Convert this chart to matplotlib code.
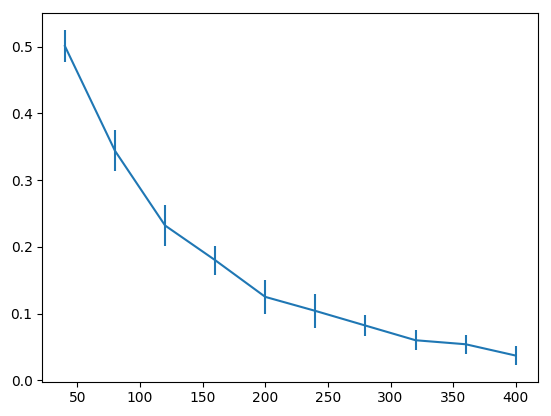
import matplotlib
matplotlib.use('Agg')
import matplotlib.pyplot as plt

x = [40, 80, 120, 160, 200, 240, 280, 320, 360, 400]
y = [0.501, 0.344, 0.232, 0.180, 0.125, 0.104, 0.082, 0.060, 0.054, 0.037]
err = [0.024, 0.031, 0.030, 0.022, 0.025, 0.025, 0.016, 0.015, 0.014, 0.014]

fig = plt.figure(figsize=(5.51, 4.16), dpi=100)
ax = fig.add_axes([0.0768, 0.0825, 0.9002, 0.8856])
ax.errorbar(x, y, yerr=err)
fig.savefig('out.png', dpi=100)
